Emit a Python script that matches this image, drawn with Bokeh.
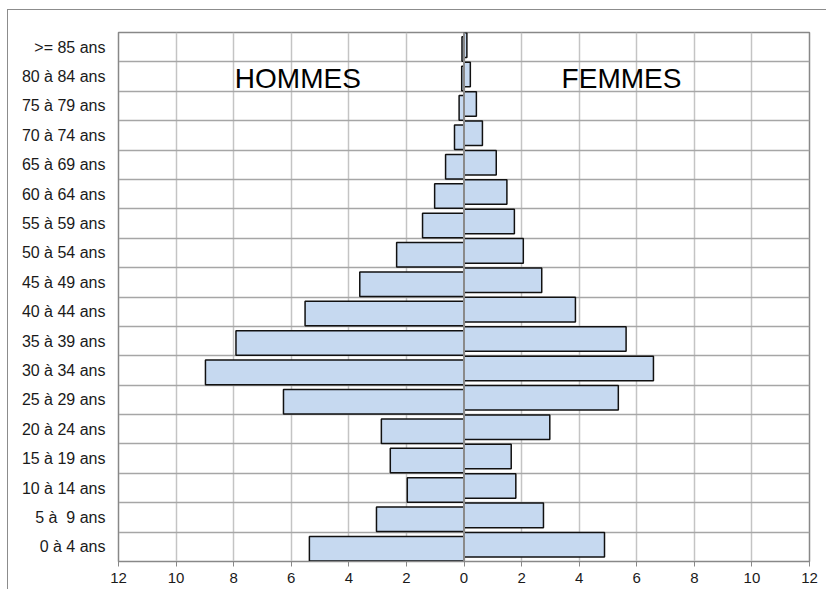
from bokeh.plotting import figure
from bokeh.models import Range1d, FixedTicker, Span, ColumnDataSource
from bokeh.core.properties import value
from bokeh.embed import file_html
from bokeh.resources import INLINE

categories = ["0 à 4 ans", "5 à\u00a0 9 ans", "10 à 14 ans", "15 à 19 ans", "20 à 24 ans",
              "25 à 29 ans", "30 à 34 ans", "35 à 39 ans", "40 à 44 ans", "45 à 49 ans",
              "50 à 54 ans", "55 à 59 ans", "60 à 64 ans", "65 à 69 ans", "70 à 74 ans",
              "75 à 79 ans", "80 à 84 ans", ">= 85 ans"]
hommes = [5.37, 3.04, 1.97, 2.56, 2.87, 6.27, 8.98, 7.92, 5.52, 3.62,
          2.34, 1.44, 1.02, 0.64, 0.33, 0.17, 0.08, 0.07]
femmes = [4.88, 2.76, 1.80, 1.64, 2.98, 5.36, 6.58, 5.63, 3.87, 2.70,
          2.06, 1.75, 1.49, 1.12, 0.64, 0.43, 0.22, 0.10]
x_ticks = [-12, -10, -8, -6, -4, -2, 0, 2, 4, 6, 8, 10, 12]
group_labels = ["HOMMES", "FEMMES"]
group_x = [-5.77, 5.47]

FONT = "Liberation Sans"
BAR_FILL = "#c6d9f0"

centers = [i + 0.5 for i in range(len(categories))]
src_h = ColumnDataSource(dict(y=[c - 0.065 for c in centers], left=[-v for v in hommes],
                              right=[0] * len(hommes)))
src_f = ColumnDataSource(dict(y=[c + 0.07 for c in centers], left=[0] * len(femmes),
                              right=femmes))

p = figure(width=819, height=580, output_backend="svg", toolbar_location=None,
           x_range=Range1d(-12, 12), y_range=Range1d(0, len(categories)),
           min_border_left=110, min_border_top=22, min_border_right=18, min_border_bottom=29)

p.hbar(y="y", left="left", right="right", height=0.835, source=src_h,
       fill_color=BAR_FILL, line_color="#111111", line_width=1.5)
p.hbar(y="y", left="left", right="right", height=0.835, source=src_f,
       fill_color=BAR_FILL, line_color="#111111", line_width=1.5)

p.add_layout(Span(location=0, dimension="height", line_color="#8a8a8a", line_width=2))

p.text(x=group_x, y=[16.45, 16.45], text=group_labels, text_align="center",
       text_baseline="middle", text_font=value(FONT), text_font_size="28px",
       text_color="#000000")

# x axis
p.xaxis.ticker = FixedTicker(ticks=x_ticks)
p.xaxis.major_label_overrides = {t: str(abs(t)) for t in x_ticks}
p.xaxis.axis_line_color = "#888888"
p.xaxis.major_tick_line_color = "#888888"
p.xaxis.major_tick_out = 5
p.xaxis.major_tick_in = 0
p.xaxis.minor_tick_line_color = None
p.xaxis.major_label_text_font = FONT
p.xaxis.major_label_text_font_size = "15px"
p.xaxis.major_label_text_color = "#1a1a1a"
p.xaxis.major_label_standoff = 6

# y axis
p.yaxis.ticker = FixedTicker(ticks=centers)
p.yaxis.major_label_overrides = {c: lab for c, lab in zip(centers, categories)}
p.yaxis.axis_line_color = "#888888"
p.yaxis.major_tick_line_color = None
p.yaxis.major_tick_out = 0
p.yaxis.major_tick_in = 0
p.yaxis.minor_tick_line_color = None
p.yaxis.minor_tick_out = 0
p.yaxis.major_label_text_font = FONT
p.yaxis.major_label_text_font_size = "16px"
p.yaxis.major_label_text_color = "#1a1a1a"
p.yaxis.major_label_standoff = 13

# grids
p.xgrid.ticker = FixedTicker(ticks=x_ticks)
p.xgrid.grid_line_color = "#c4c4c4"
p.xgrid.grid_line_width = 1.5
p.ygrid.ticker = FixedTicker(ticks=list(range(len(categories) + 1)))
p.ygrid.grid_line_color = "#a6a6a6"
p.ygrid.grid_line_width = 1.5

p.outline_line_color = "#888888"
p.outline_line_width = 1.5
p.background_fill_color = "white"
p.border_fill_color = "white"
p.styles = {"border-left": "1px solid #8c8c8c", "border-top": "1px solid #8c8c8c",
            "margin-left": "7px", "margin-top": "9px"}

open("out.html", "w").write(file_html(p, INLINE))
